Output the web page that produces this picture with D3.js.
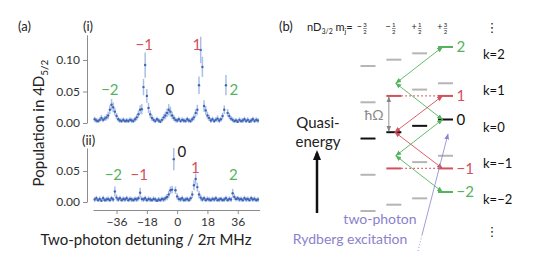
<!DOCTYPE html>
<html>
<head>
<meta charset="utf-8">
<script src="https://cdn.jsdelivr.net/npm/d3@7"></script>
<style>
  body { margin: 0; background: #fff; }
  svg { display: block; }
  text { font-family: Lato, "Open Sans", sans-serif; }
</style>
</head>
<body>
<svg id="chart" width="538" height="256"></svg>
<script>
// two-photon detuning grid (2π MHz)
const detuning = [
  -49,-48,-47,-46,-45,-44,-43,-42,-41,-40,
  -39,-38,-37,-36,-35,-34,-33,-32,-31,-30,
  -29,-28,-27,-26,-25,-24,-23,-22,-21,-20,
  -19,-18,-17,-16,-15,-14,-13,-12,-11,-10,
  -9,-8,-7,-6,-5,-4,-3,-2,-1,0,
  1,2,3,4,5,6,7,8,9,10,
  11,12,13,14,15,16,17,18,19,20,
  21,22,23,24,25,26,27,28,29,30,
  31,32,33,34,35,36,37,38,39,40,
  41,42,43,44,45,46,47,48
]

// (i) population in 4D5/2
const popI = [
  0.006,0.004,0.003,0.005,0.008,0.005,0.007,0.009,0.012,0.021,
  0.029,0.025,0.018,0.011,0.006,0.004,0.003,0.005,0.003,0.004,
  0.003,0.005,0.004,0.003,0.006,0.009,0.014,0.021,0.022,0.057,
  0.092,0.043,0.024,0.014,0.008,0.005,0.003,0.006,0.004,0.002,
  0.005,0.009,0.012,0.016,0.021,0.018,0.012,0.008,0.005,0.004,
  0.006,0.003,0.005,0.004,0.003,0.006,0.004,0.003,0.006,0.009,
  0.016,0.021,0.060,0.116,0.089,0.027,0.020,0.012,0.008,0.004,
  0.006,0.003,0.005,0.007,0.004,0.006,0.011,0.021,0.060,0.016,
  0.011,0.007,0.005,0.003,0.004,0.002,0.005,0.003,0.004,0.006,
  0.003,0.005,0.002,0.004,0.006,0.003,0.005,0.004
]
const errI = [
  0.004,0.004,0.004,0.004,0.005,0.004,0.004,0.005,0.006,0.007,
  0.009,0.008,0.006,0.005,0.004,0.004,0.004,0.004,0.004,0.004,
  0.004,0.004,0.004,0.004,0.004,0.005,0.006,0.007,0.008,0.013,
  0.020,0.011,0.008,0.006,0.005,0.004,0.004,0.004,0.004,0.004,
  0.004,0.005,0.006,0.007,0.009,0.008,0.006,0.005,0.004,0.004,
  0.004,0.004,0.004,0.004,0.004,0.004,0.004,0.004,0.004,0.005,
  0.006,0.008,0.014,0.021,0.016,0.009,0.007,0.006,0.005,0.004,
  0.004,0.004,0.004,0.005,0.004,0.004,0.005,0.007,0.016,0.006,
  0.005,0.004,0.004,0.004,0.004,0.004,0.004,0.004,0.004,0.004,
  0.004,0.004,0.004,0.004,0.004,0.004,0.004,0.004
]

// (ii) population in 4D5/2
const popII = [
  0.004,0.006,0.003,0.005,0.002,0.006,0.003,0.004,0.005,0.003,
  0.006,0.004,0.017,0.007,0.004,0.006,0.003,0.005,0.004,0.006,
  0.003,0.005,0.004,0.003,0.005,0.004,0.006,0.015,0.005,0.004,
  0.006,0.003,0.005,0.004,0.003,0.005,0.004,0.002,0.004,0.003,
  0.005,0.004,0.006,0.008,0.012,0.019,0.020,0.069,0.019,0.009,
  0.005,0.004,0.006,0.003,0.004,0.005,0.003,0.006,0.012,0.027,
  0.037,0.024,0.012,0.007,0.004,0.006,0.003,0.005,0.004,0.003,
  0.005,0.004,0.006,0.003,0.004,0.005,0.003,0.004,0.006,0.003,
  0.005,0.004,0.014,0.008,0.005,0.006,0.004,0.005,0.003,0.006,
  0.004,0.005,0.003,0.006,0.004,0.005,0.003,0.004
]
const errII = [
  0.004,0.004,0.004,0.004,0.004,0.004,0.004,0.004,0.004,0.004,
  0.004,0.004,0.008,0.005,0.004,0.004,0.004,0.004,0.004,0.004,
  0.004,0.004,0.004,0.004,0.004,0.004,0.004,0.008,0.004,0.004,
  0.004,0.004,0.004,0.004,0.004,0.004,0.004,0.004,0.004,0.004,
  0.004,0.004,0.004,0.005,0.006,0.006,0.006,0.018,0.006,0.005,
  0.004,0.004,0.004,0.004,0.004,0.004,0.004,0.004,0.006,0.008,
  0.009,0.007,0.006,0.005,0.004,0.004,0.004,0.004,0.004,0.004,
  0.004,0.004,0.004,0.004,0.004,0.004,0.004,0.004,0.004,0.004,
  0.004,0.004,0.007,0.005,0.004,0.004,0.004,0.004,0.004,0.004,
  0.004,0.004,0.004,0.004,0.004,0.004,0.004,0.004
]

const xTicks = [-36, -18, 0, 18, 36]
const yTicksI = [0, 0.05, 0.10]
const yTicksII = [0, 0.05]

// sideband order labels, placed in data units
const orders = ["−2", "−1", "0", "1", "2"]
const orderLabelDetI = [-40, -19.5, -4.3, 11.7, 33.7]
const orderLabelPopI = [0.044, 0.116, 0.044, 0.116, 0.044]
const orderLabelDetII = [-37.9, -22.5, 2.8, 10.8, 33.4]
const orderLabelPopII = [0.035, 0.035, 0.073, 0.047, 0.035]

// level scheme (b)
const kValues = [2, 1, 0, -1, -2]
const mjValues = [-1.5, -0.5, 0.5, 1.5]
const mjLabels = [["−", "3", "2"], ["−", "1", "2"], ["+", "1", "2"], ["+", "3", "2"]]
const zeemanStep = 0.175   // quasi-energy shift per mj step, units of ħΩ

const green = "#55b35e", red = "#d4505b", blue = "#3f64b8", errBlue = "#aabfe6"
const purple = "#8a82cc", gray = "#b5b5b5", axisGray = "#8c8c8c"

const svg = d3.select("#chart")

// ---------- (a) ----------
const x = d3.scaleLinear().domain([-50, 49]).range([93, 259.6])
const yI = d3.scaleLinear().domain([0, 0.14]).range([123, 34.8])
const yII = d3.scaleLinear().domain([0, 0.087]).range([202, 148])

function styleAxis(g) {
  g.select(".domain").attr("stroke", axisGray)
  g.selectAll(".tick line").attr("stroke", axisGray)
  g.selectAll(".tick text").attr("fill", "#333").style("font-size", "12px")
    .style("font-family", "Lato, 'Open Sans', sans-serif")
}

svg.append("g").attr("transform", "translate(87,0)")
  .call(d3.axisLeft(yI).tickValues(yTicksI).tickFormat(d3.format(".2f")).tickSize(4).tickSizeOuter(0).tickPadding(3))
  .call(styleAxis)
svg.append("g").attr("transform", "translate(87,0)")
  .call(d3.axisLeft(yII).tickValues(yTicksII).tickFormat(d3.format(".2f")).tickSize(4).tickSizeOuter(0).tickPadding(3))
  .call(styleAxis)
svg.append("g").attr("transform", "translate(0,210)")
  .call(d3.axisBottom(x).tickValues(xTicks).tickFormat(d => d < 0 ? "−" + (-d) : d).tickSize(4).tickSizeOuter(0).tickPadding(3))
  .call(styleAxis)

function drawSeries(pop, err, y) {
  const pts = detuning.map((d, i) => ({ d: d, v: pop[i], e: err[i] }))
  const g = svg.append("g")
  g.selectAll("line.err").data(pts).enter().append("line")
    .attr("x1", p => x(p.d)).attr("x2", p => x(p.d))
    .attr("y1", p => y(Math.max(0, p.v - p.e))).attr("y2", p => y(p.v + p.e))
    .attr("stroke", errBlue).attr("stroke-width", 1.5)
  g.selectAll("circle").data(pts).enter().append("circle")
    .attr("cx", p => x(p.d)).attr("cy", p => y(p.v)).attr("r", 1.2)
    .attr("fill", blue)
}
drawSeries(popI, errI, yI)
drawSeries(popII, errII, yII)

const orderColor = o => (o === "0" ? "#1a1a1a" : (o.endsWith("1") ? red : green))
function drawOrderLabels(dets, pops, y) {
  svg.append("g").selectAll("text").data(orders).enter().append("text")
    .attr("x", (o, i) => x(dets[i])).attr("y", (o, i) => y(pops[i]))
    .attr("text-anchor", "middle").style("font-size", "15px")
    .attr("fill", orderColor).text(o => o)
}
drawOrderLabels(orderLabelDetI, orderLabelPopI, yI)
drawOrderLabels(orderLabelDetII, orderLabelPopII, yII)

svg.append("text").attr("x", 18).attr("y", 31).style("font-size", "13px").attr("fill", "#222").text("(a)")
svg.append("text").attr("x", 83).attr("y", 31).style("font-size", "13px").attr("fill", "#222").text("(i)")
svg.append("text").attr("x", 82).attr("y", 145).style("font-size", "13px").attr("fill", "#222").text("(ii)")

const ylab = svg.append("text").attr("transform", "translate(44,123) rotate(-90)")
  .attr("text-anchor", "middle").style("font-size", "15px").attr("fill", "#222")
ylab.append("tspan").text("Population in 4D")
ylab.append("tspan").attr("dy", 4).style("font-size", "10px").text("5/2")

svg.append("text").attr("x", 146).attr("y", 245).attr("text-anchor", "middle")
  .style("font-size", "15px").attr("fill", "#222").text("Two-photon detuning / 2π MHz")

// ---------- (b) ----------
const xm = d3.scaleLinear().domain([-1.5, 1.5]).range([368, 445.5])
const yE = d3.scaleLinear().domain([-2, 2]).range([192, 47])
const energy = (k, mj) => k + zeemanStep * (mj - 1.5)
const halfW = 7.5

const defs = svg.append("defs")
function marker(id, color) {
  defs.append("marker").attr("id", id).attr("viewBox", "0 0 10 10")
    .attr("refX", 9).attr("refY", 5).attr("markerWidth", 6).attr("markerHeight", 6)
    .attr("markerUnits", "userSpaceOnUse").attr("orient", "auto-start-reverse")
    .append("path").attr("d", "M0,1L10,5L0,9Z").attr("fill", color)
}
marker("mg", green); marker("mr", red); marker("mgray", "#888"); marker("mp", purple); marker("mb", "#111")

const levels = []
kValues.forEach(k => mjValues.forEach(mj => levels.push({ k, mj })))
const levelColor = l => l.k === 0 ? "#111"
  : (Math.abs(l.k) === 1 && l.mj === -0.5) ? red
  : (Math.abs(l.k) === 2 && l.mj === 1.5) ? green : gray

const gb = svg.append("g")
gb.selectAll("line.level").data(levels).enter().append("line")
  .attr("x1", l => xm(l.mj) - halfW).attr("x2", l => xm(l.mj) + halfW)
  .attr("y1", l => yE(energy(l.k, l.mj))).attr("y2", l => yE(energy(l.k, l.mj)))
  .attr("stroke", levelColor).attr("stroke-width", 2)

// red target markers at mj=+3/2, dotted back to the mj=-1/2 level
const redK = [1, -1]
redK.forEach(k => {
  const yy = yE(energy(k, -0.5))
  gb.append("line").attr("x1", xm(-0.5) + halfW).attr("x2", xm(1.5) - halfW)
    .attr("y1", yy).attr("y2", yy).attr("stroke", red).attr("stroke-width", 1.2)
    .attr("stroke-dasharray", "1.5,2.5")
  gb.append("line").attr("x1", xm(1.5) - halfW).attr("x2", xm(1.5) + halfW)
    .attr("y1", yy).attr("y2", yy).attr("stroke", red).attr("stroke-width", 2)
})

// green zigzag: sigma transitions
const greenPts = [
  [xm(1.5) - 3, yE(energy(2, 1.5))],
  [xm(-0.5) + 2, yE(energy(1, 1.5))],
  [xm(1.5) - 3, yE(energy(0, 1.5))],
  [xm(-0.5) + 2, yE(energy(-1, 1.5))],
  [xm(1.5) - 3, yE(energy(-2, 1.5))]
]
for (let i = 0; i < greenPts.length - 1; i++) {
  gb.append("line").attr("x1", greenPts[i][0]).attr("y1", greenPts[i][1])
    .attr("x2", greenPts[i + 1][0]).attr("y2", greenPts[i + 1][1])
    .attr("stroke", green).attr("stroke-width", 0.9)
    .attr("marker-start", "url(#mg)").attr("marker-end", "url(#mg)")
}
redK.forEach(k => {
  gb.append("line").attr("x1", xm(-0.5) + 1).attr("y1", yE(energy(0, -0.5)))
    .attr("x2", xm(1.5) - 3).attr("y2", yE(energy(k, -0.5)))
    .attr("stroke", red).attr("stroke-width", 0.9)
    .attr("marker-start", "url(#mr)").attr("marker-end", "url(#mr)")
})

// level order labels
const levelLabels = [
  { t: "2", e: energy(2, 1.5), c: green },
  { t: "1", e: energy(1, -0.5), c: red },
  { t: "0", e: energy(0, 1.5), c: "#111" },
  { t: "−1", e: energy(-1, -0.5), c: red },
  { t: "−2", e: energy(-2, 1.5), c: green }
]
gb.selectAll("text.ll").data(levelLabels).enter().append("text")
  .attr("x", d => d.t.length > 1 ? xm(1.5) + 11 : xm(1.5) + 11)
  .attr("y", d => yE(d.e)).attr("dy", "0.35em")
  .style("font-size", "15px").attr("fill", d => d.c).text(d => d.t)

// k labels
gb.selectAll("text.k").data(kValues).enter().append("text")
  .attr("x", 483).attr("y", k => yE(energy(k, 0.3))).attr("dy", "0.35em")
  .style("font-size", "13px").attr("fill", "#111")
  .text(k => "k=" + (k < 0 ? "−" + (-k) : k))

// ħΩ spacing
gb.append("line").attr("x1", xm(-0.5) - 5).attr("x2", xm(-0.5) - 5)
  .attr("y1", yE(energy(1, -0.5)) + 1).attr("y2", yE(energy(0, -0.5)) - 1)
  .attr("stroke", "#888").attr("stroke-width", 0.9)
  .attr("marker-start", "url(#mgray)").attr("marker-end", "url(#mgray)")
gb.append("text").attr("x", 374).attr("y", 115).attr("dy", "0.35em").attr("text-anchor", "middle")
  .style("font-size", "14px").attr("fill", "#888").text("ħΩ")

// quasi-energy arrow
gb.append("text").attr("x", 318).attr("y", 128).attr("text-anchor", "middle")
  .style("font-size", "15px").attr("fill", "#222").text("Quasi-")
gb.append("text").attr("x", 318).attr("y", 147).attr("text-anchor", "middle")
  .style("font-size", "15px").attr("fill", "#222").text("energy")
gb.append("line").attr("x1", 317).attr("x2", 317).attr("y1", 213).attr("y2", 153)
  .attr("stroke", "#111").attr("stroke-width", 2.5)
gb.append("path").attr("d", "M317,150 L313,160 L321,160 Z").attr("fill", "#111")

// two-photon excitation arrow
gb.append("line").attr("x1", 418).attr("y1", 251).attr("x2", 422).attr("y2", 235)
  .attr("stroke", purple).attr("stroke-width", 0.8).attr("stroke-dasharray", "1,2")
gb.append("line").attr("x1", 422).attr("y1", 235).attr("x2", 448).attr("y2", 134)
  .attr("stroke", purple).attr("stroke-width", 0.8).attr("marker-end", "url(#mp)")
gb.append("text").attr("x", 380).attr("y", 224).attr("text-anchor", "middle")
  .style("font-size", "14px").attr("fill", purple).text("two-photon")
gb.append("text").attr("x", 350).attr("y", 244).attr("text-anchor", "middle")
  .style("font-size", "14px").attr("fill", purple).text("Rydberg excitation")

// header
svg.append("text").attr("x", 279).attr("y", 31).style("font-size", "13px").attr("fill", "#222").text("(b)")
const hdr = svg.append("text").attr("x", 307).attr("y", 31).style("font-size", "11px").attr("fill", "#222")
hdr.append("tspan").text("nD")
hdr.append("tspan").attr("dy", 3).style("font-size", "7px").text("3/2")
hdr.append("tspan").attr("dy", -3).text(" m")
hdr.append("tspan").attr("dy", 3).style("font-size", "7px").text("j")
hdr.append("tspan").attr("dy", -3).text("=")
const frac = svg.append("g").selectAll("g").data(mjValues).enter().append("g")
  .attr("transform", (mj, i) => `translate(${xm(mj) - (i === 0 ? 3 : 0)},28)`)
frac.append("text").attr("x", -3).attr("y", 2).attr("text-anchor", "end")
  .style("font-size", "9px").attr("fill", "#222").text((mj, i) => mjLabels[i][0])
frac.append("text").attr("x", 0).attr("y", -1).attr("text-anchor", "middle")
  .style("font-size", "6px").attr("fill", "#222").text((mj, i) => mjLabels[i][1])
frac.append("text").attr("x", 0).attr("y", 6).attr("text-anchor", "middle")
  .style("font-size", "6px").attr("fill", "#222").text((mj, i) => mjLabels[i][2])
frac.append("line").attr("x1", -1.8).attr("x2", 1.8).attr("y1", 0.5).attr("y2", 0.5)
  .attr("stroke", "#222").attr("stroke-width", 0.5)

svg.append("text").attr("x", 492).attr("y", 32).attr("text-anchor", "middle")
  .style("font-size", "13px").attr("fill", "#222").style("font-family", "DejaVu Sans").text("⋮")
svg.append("text").attr("x", 492).attr("y", 236).attr("text-anchor", "middle")
  .style("font-size", "13px").attr("fill", "#222").style("font-family", "DejaVu Sans").text("⋮")
</script>
</body>
</html>
